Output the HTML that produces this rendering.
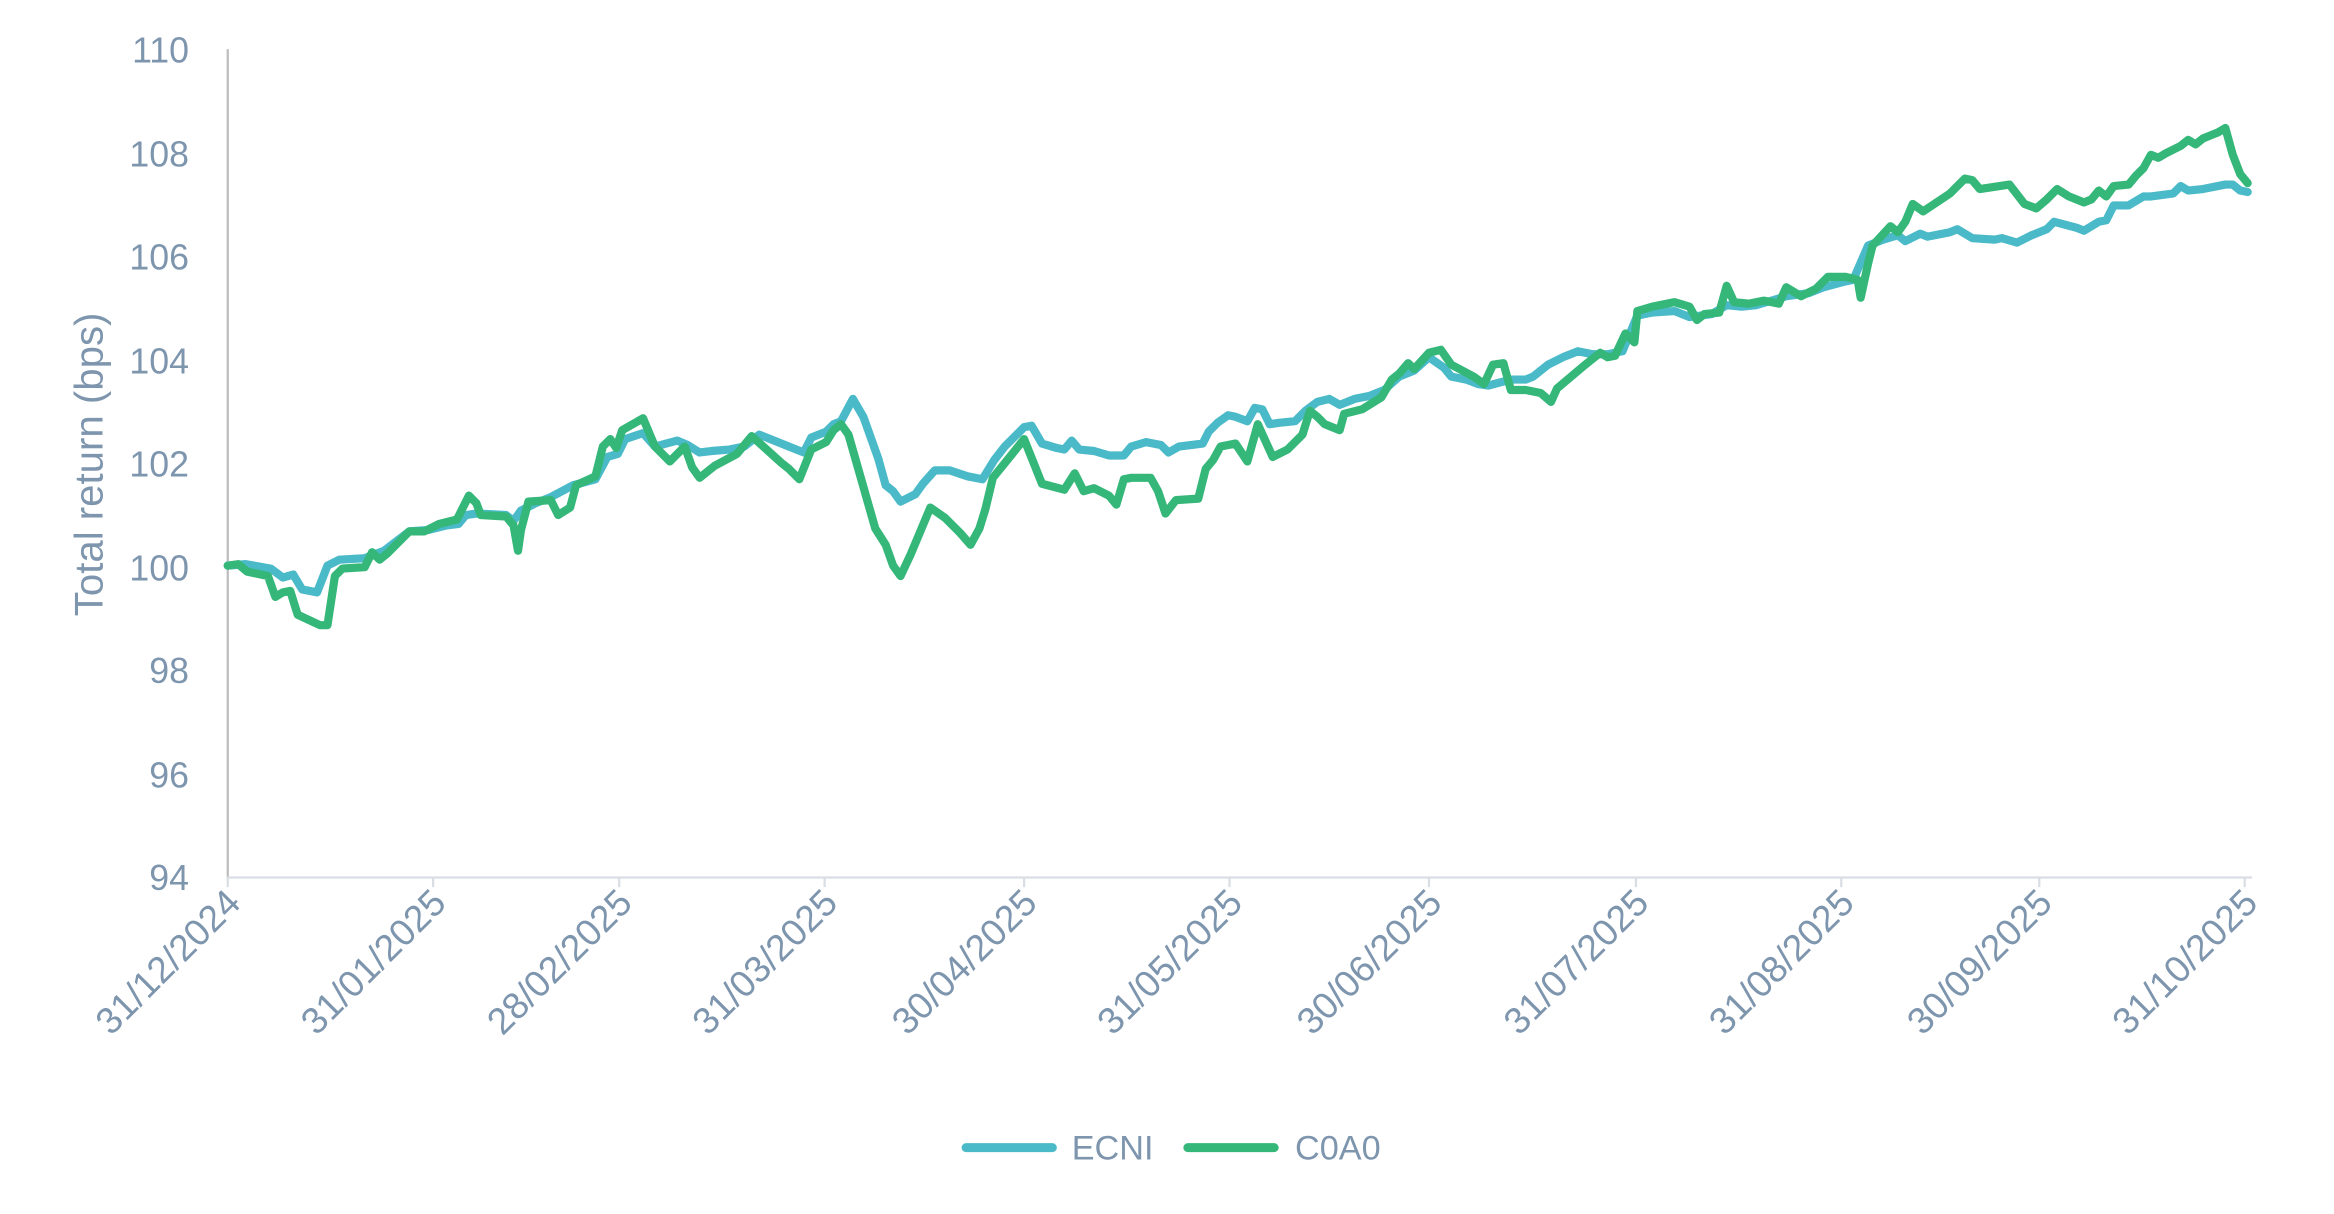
<!DOCTYPE html>
<html><head><meta charset="utf-8"><style>
html,body{margin:0;padding:0;background:#fff}
svg{display:block}
text{font-family:"Liberation Sans",sans-serif;fill:#7E95AE}
</style></head><body>
<svg width="2334" height="1214" viewBox="0 0 1568 815.6" preserveAspectRatio="none" xmlns="http://www.w3.org/2000/svg">
<g font-size="24" text-anchor="end">
<text x="127" y="42">110</text>
<text x="127" y="112">108</text>
<text x="127" y="181">106</text>
<text x="127" y="251">104</text>
<text x="127" y="320">102</text>
<text x="127" y="390">100</text>
<text x="127" y="459">98</text>
<text x="127" y="529">96</text>
<text x="127" y="598">94</text>
</g>
<text x="69" y="312" font-size="27" text-anchor="middle" transform="rotate(-90 69 312)">Total return (bps)</text>
<line x1="153" y1="33" x2="153" y2="590" stroke="#BDBDBD" stroke-width="1.5"/>
<line x1="153" y1="589.5" x2="1513" y2="589.5" stroke="#D9DEE5" stroke-width="1.5"/>
<g stroke="#D9DEE5" stroke-width="1.5">
<line x1="153" y1="589" x2="153" y2="596"/><line x1="291" y1="589" x2="291" y2="596"/><line x1="416" y1="589" x2="416" y2="596"/><line x1="554" y1="589" x2="554" y2="596"/><line x1="688" y1="589" x2="688" y2="596"/><line x1="826" y1="589" x2="826" y2="596"/><line x1="960" y1="589" x2="960" y2="596"/><line x1="1099" y1="589" x2="1099" y2="596"/><line x1="1237" y1="589" x2="1237" y2="596"/><line x1="1370" y1="589" x2="1370" y2="596"/><line x1="1508" y1="589" x2="1508" y2="596"/>
</g>
<g font-size="25" text-anchor="end">
<text transform="translate(163 608) rotate(-45)">31/12/2024</text>
<text transform="translate(301 608) rotate(-45)">31/01/2025</text>
<text transform="translate(426 608) rotate(-45)">28/02/2025</text>
<text transform="translate(564 608) rotate(-45)">31/03/2025</text>
<text transform="translate(698 608) rotate(-45)">30/04/2025</text>
<text transform="translate(836 608) rotate(-45)">31/05/2025</text>
<text transform="translate(970 608) rotate(-45)">30/06/2025</text>
<text transform="translate(1109 608) rotate(-45)">31/07/2025</text>
<text transform="translate(1247 608) rotate(-45)">31/08/2025</text>
<text transform="translate(1380 608) rotate(-45)">30/09/2025</text>
<text transform="translate(1518 608) rotate(-45)">31/10/2025</text>
</g>
<polyline fill="none" stroke="#4BBAC8" stroke-width="5.5" stroke-linejoin="round" stroke-linecap="round" points="153,380 165,379 182,382 190,388 197,386 203,396 213,398 220,380 228,376 245,375 258,370 275,357 288,356 300,353 308,352 313,346 320,345 340,346 345,350 350,343 360,338 370,334 385,326 400,322 408,307 415,305 420,295 432,291 440,300 455,296 462,299 470,304 478,303 490,302 500,300 510,292 520,296 530,300 540,304 545,294 555,290 560,285 565,283 573,268 580,280 590,308 595,326 600,330 605,337 615,332 620,325 628,316 638,316 650,320 660,322 668,309 675,300 688,287 693,286 700,298 710,301 715,302 720,296 725,302 735,303 745,306 755,306 760,300 770,297 780,299 785,304 792,300 800,299 808,298 812,290 818,284 825,279 830,280 838,283 843,274 848,275 853,285 860,284 870,283 877,276 885,270 893,268 900,272 905,270 910,268 920,266 930,262 940,253 950,249 960,240 970,247 975,253 985,255 993,258 1000,259 1015,255 1025,255 1030,253 1040,245 1050,240 1060,236 1070,238 1080,238 1090,236 1100,212 1110,210 1125,209 1135,213 1150,211 1160,205 1170,206 1180,205 1200,199 1215,197 1225,193 1240,189 1245,188 1255,165 1265,161 1275,158 1280,162 1290,157 1295,159 1310,156 1315,154 1325,160 1340,161 1345,160 1355,163 1365,158 1375,154 1380,149 1395,153 1400,155 1410,149 1415,148 1420,138 1430,138 1440,132 1445,132 1460,130 1465,125 1470,128 1480,127 1495,124 1500,124 1505,128 1510,129"/>
<polyline fill="none" stroke="#35B779" stroke-width="5.5" stroke-linejoin="round" stroke-linecap="round" points="153,380 160,379 166,384 180,387 185,401 190,398 195,397 200,413 215,420 220,420 225,387 230,382 245,381 250,371 255,376 260,372 275,357 285,357 295,352 307,349 310,343 315,333 320,338 323,346 340,347 345,353 348,370 350,356 355,337 370,336 375,346 383,341 387,326 400,320 405,300 410,295 414,301 418,289 432,281 440,300 450,310 460,300 465,314 470,321 480,313 495,305 505,293 525,311 530,315 537,322 545,302 555,297 560,289 565,285 570,292 578,320 588,355 595,366 600,380 605,387 612,372 625,341 635,348 645,358 652,366 658,355 662,342 667,321 680,305 688,295 700,325 715,329 722,318 728,330 735,328 745,333 750,339 755,322 760,321 773,321 778,330 783,345 790,336 805,335 810,315 815,309 820,300 830,298 838,310 845,285 855,307 865,302 875,292 880,276 885,280 890,285 900,289 903,278 915,275 928,267 935,255 940,251 946,244 950,248 960,237 968,235 975,245 990,253 997,258 1003,245 1010,244 1015,262 1025,262 1035,264 1042,270 1046,261 1065,245 1075,237 1080,240 1085,239 1092,224 1098,230 1100,209 1110,206 1125,203 1135,206 1140,215 1145,211 1155,210 1160,192 1165,203 1175,204 1185,202 1195,204 1200,193 1210,199 1220,194 1228,186 1240,186 1248,188 1250,200 1255,177 1258,165 1270,152 1275,156 1280,149 1285,137 1292,142 1310,130 1320,120 1325,121 1330,127 1350,124 1360,137 1368,140 1375,134 1382,127 1390,132 1400,136 1405,134 1410,128 1415,132 1420,125 1430,124 1435,118 1440,113 1445,104 1450,106 1455,103 1465,98 1470,94 1475,97 1480,93 1490,89 1495,86 1500,104 1505,117 1510,123"/>
<line x1="649" y1="771" x2="707" y2="771" stroke="#4BBAC8" stroke-width="6" stroke-linecap="round"/>
<text x="720" y="779" font-size="23">ECNI</text>
<line x1="798" y1="771" x2="856" y2="771" stroke="#35B779" stroke-width="6" stroke-linecap="round"/>
<text x="870" y="779" font-size="23">C0A0</text>
</svg>
</body></html>
